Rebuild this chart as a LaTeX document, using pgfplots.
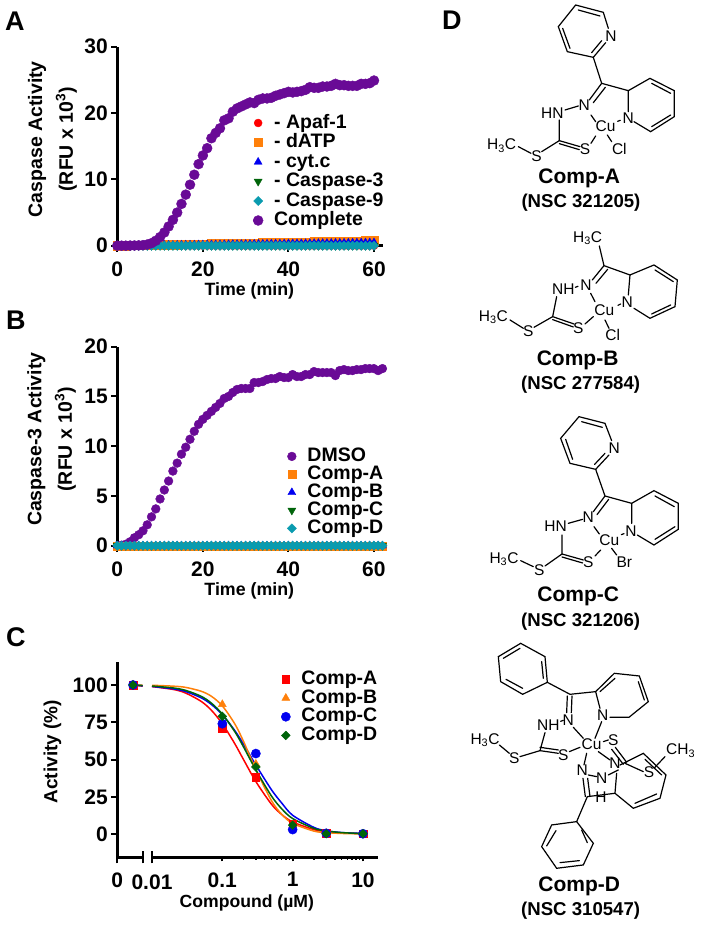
\documentclass[border=0pt]{standalone}
\usepackage{fontspec}
\setmainfont{Liberation Sans}
\usepackage{pgfplots}
\usepackage{pgfplotstable}
\pgfplotsset{compat=1.18}

\definecolor{cred}{RGB}{255,0,0}
\definecolor{corange}{RGB}{255,128,10}
\definecolor{cblue}{RGB}{0,0,240}
\definecolor{cgreen}{RGB}{0,100,10}
\definecolor{cteal}{RGB}{10,155,175}
\definecolor{cpurple}{RGB}{105,10,150}

\newcommand{\fz}[1]{\fontsize{#1}{#1}\selectfont\bfseries}

% panel A: t, -Apaf-1, -dATP, -cyt.c, -Caspase-3, -Caspase-9, Complete
\pgfplotstableread{
t a b c d e f
0 0 0 0 0 0 0
1 0 0.01 0 0 0 0
2 0 0.02 0.01 0 0 0
3 0 0.04 0.02 0 0 0.02
4 0 0.05 0.03 0 0 0.03
5 0 0.06 0.04 0 0 0.05
6 0 0.08 0.05 0 0 0.08
7 0 0.09 0.06 0 0 0.18
8 0 0.10 0.06 0 0 0.38
9 0 0.11 0.07 0 0 0.75
10 0 0.13 0.08 0 0 1.3
11 0 0.14 0.09 0 0 2.0
12 0 0.15 0.10 0 0 2.9
13 0 0.16 0.10 0 0 3.9
14 0 0.18 0.11 0 0 5.0
15 0 0.19 0.12 0 0 6.3
16 0 0.20 0.13 0 0 7.7
17 0 0.21 0.14 0 0 9.2
18 0 0.23 0.14 0 0 10.7
19 0 0.24 0.15 0 0 12.3
20 0 0.25 0.16 0 0 13.6
21 0 0.26 0.17 0 0 14.7
22 0 0.28 0.18 0 0 16.2
23 0 0.29 0.18 0 0 17.0
24 0 0.30 0.19 0 0 17.7
25 0 0.31 0.20 0 0 18.9
26 0 0.33 0.21 0 0 19.2
27 0 0.34 0.22 0 0 20.2
28 0 0.35 0.22 0 0 20.7
29 0 0.36 0.23 0 0 21.0
30 0 0.38 0.24 0 0 21.3
31 0 0.39 0.25 0 0 21.6
32 0 0.40 0.26 0 0 21.5
33 0 0.41 0.26 0 0 22.0
34 0 0.43 0.27 0 0 22.2
35 0 0.44 0.28 0 0 22.2
36 0 0.45 0.29 0 0 22.3
37 0 0.46 0.30 0 0 22.6
38 0 0.48 0.30 0 0 22.8
39 0 0.49 0.31 0 0 23.0
40 0 0.50 0.32 0 0 23.2
41 0 0.51 0.33 0 0 23.1
42 0 0.53 0.34 0 0 23.2
43 0 0.54 0.34 0 0 23.3
44 0 0.55 0.35 0 0 23.5
45 0 0.56 0.36 0 0 23.9
46 0 0.58 0.37 0 0 23.8
47 0 0.59 0.38 0 0 23.8
48 0 0.60 0.38 0 0 24.0
49 0 0.61 0.39 0 0 24.0
50 0 0.63 0.40 0 0 24.1
51 0 0.64 0.41 0 0 24.4
52 0 0.65 0.42 0 0 24.2
53 0 0.66 0.42 0 0 24.2
54 0 0.68 0.43 0 0 24.1
55 0 0.69 0.44 0 0 24.1
56 0 0.70 0.45 0 0 24.1
57 0 0.71 0.46 0 0 24.4
58 0 0.73 0.46 0 0 24.4
59 0 0.74 0.47 0 0 24.5
60 0 0.75 0.48 0 0 24.9
}\tableA

% panel B: t, DMSO, Comp-A..D
\pgfplotstableread{
t dmso a b c d
0 0 0 0 0 0
1 0.05 0 0 0 0
2 0.15 0 0 0 0
3 0.4 0 0 0 0
4 0.8 0 0 0 0
5 1.1 0 0 0 0
6 1.5 0 0 0 0
7 2.1 0 0 0 0
8 2.9 0 0 0 0
9 3.7 0 0 0 0
10 4.7 0 0 0 0
11 5.6 0 0 0 0
12 6.5 0 0 0 0
13 7.5 0 0 0 0
14 8.3 0 0 0 0
15 9.2 0 0 0 0
16 9.9 0 0 0 0
17 10.7 0 0 0 0
18 11.5 0 0 0 0
19 12.2 0 0 0 0
20 12.7 0 0 0 0
21 13.1 0 0 0 0
22 13.5 0 0 0 0
23 13.9 0 0 0 0
24 14.3 0 0 0 0
25 14.8 0 0 0 0
26 15.0 0 0 0 0
27 15.4 0 0 0 0
28 15.7 0 0 0 0
29 15.8 0 0 0 0
30 15.8 0 0 0 0
31 15.8 0 0 0 0
32 16.4 0 0 0 0
33 16.4 0 0 0 0
34 16.5 0 0 0 0
35 16.7 0 0 0 0
36 16.8 0 0 0 0
37 16.8 0 0 0 0
38 17.0 0 0 0 0
39 16.9 0 0 0 0
40 16.9 0 0 0 0
41 17.2 0 0 0 0
42 17.0 0 0 0 0
43 17.0 0 0 0 0
44 17.2 0 0 0 0
45 17.2 0 0 0 0
46 17.5 0 0 0 0
47 17.4 0 0 0 0
48 17.4 0 0 0 0
49 17.4 0 0 0 0
50 17.4 0 0 0 0
51 17.1 0 0 0 0
52 17.6 0 0 0 0
53 17.7 0 0 0 0
54 17.6 0 0 0 0
55 17.6 0 0 0 0
56 17.7 0 0 0 0
57 17.7 0 0 0 0
58 17.8 0 0 0 0
59 17.8 0 0 0 0
60 17.8 0 0 0 0
61 17.6 0 0 0 0
62 17.8 0 0 0 0
}\tableB

% panel C: fitted curves
\pgfplotstableread{
x a b c d
0.01 98.9 99.8 99.0 99.3
0.02 97.0 99.2 97.4 98.0
0.03 94.6 98.4 95.6 96.4
0.05 89.0 95.8 91.4 92.4
0.07 83.0 92.4 86.9 87.8
0.1 74.0 86.0 80.1 80.5
0.15 60.7 74.0 69.5 68.8
0.2 50.0 62.2 60.3 58.5
0.3 35.2 43.2 46.3 43.0
0.5 20.0 22.4 29.7 25.5
0.7 13.1 13.2 20.8 16.9
1 8.1 7.2 12.6 10.4
2 3.0 2.0 4.5 3.8
3 1.6 0.95 2.2 2.1
5 0.8 0.4 1.0 0.95
10 0.3 0.1 0.4 0.3
}\tableC

\pgfplotsset{
  chart/.style={
    scale only axis, clip=false,
    axis x line=bottom, axis y line=left,
    axis line style={-, line width=2.6pt},
    tick align=outside, major tick length=6pt,
    tick style={black, line width=2pt},
    xtick pos=bottom, ytick pos=left,
    tick label style={font=\fz{21}},
    /pgf/number format/assume math mode=true,
    every axis y label/.style={font=\fz{19.5},at={(axis description cs:-0.244,0.535)},rotate=90,anchor=center,align=center},
    legend cell align=left,
    legend style={draw=none, fill=none, font=\fz{19.5},
      /tikz/every odd column/.append style={column sep=11pt}},
  },
  pts/.style={only marks, mark=#1, mark options={solid}},
}
\tikzset{bond/.style={line width=1.2pt, line cap=round},
  atom/.style={font=\fontsize{15.5}{15.5}\selectfont, inner sep=0pt},
  ctitle/.style={font=\fz{21}, inner sep=0pt},
  nsc/.style={font=\fz{18.6}, inner sep=0pt},
  plet/.style={font=\fz{27}, inner sep=0pt, anchor=west}}

\begin{document}
\begin{tikzpicture}
\useasboundingbox (0pt,0pt) rectangle (701pt,-926pt);

% A
\begin{axis}[chart, at={(117.3pt,-245.7pt)}, anchor=south west,
  width=265.7pt, height=199pt,
  xmin=0, xmax=62.1, ymin=0, ymax=30,
  xtick={0,20,40,60}, ytick={0,10,20,30},
  xticklabel style={yshift=-7pt},
  xlabel={Time (min)}, ylabel={Caspase Activity\\[8.5pt](RFU x 10\textsuperscript{3})},
  every axis x label/.style={font=\fz{17.8},at={(axis description cs:0.497,-0.226)},anchor=center},
  legend style={at={(axis cs:31,20.3)}, anchor=north west, row sep=0pt,
    nodes={inner sep=0pt, text height=15pt, text depth=4.5pt}},
]
\addplot[pts={*}, mark size=4pt, cred, mark options={fill=cred}] table[x=t,y=a] {\tableA};
\addlegendentry{- Apaf-1}
\addplot[pts={square*}, mark size=4.2pt, corange, mark options={fill=corange}] table[x=t,y=b] {\tableA};
\addlegendentry{- dATP}
\addplot[pts={triangle*}, mark size=4.6pt, cblue, mark options={fill=cblue}] table[x=t,y=c] {\tableA};
\addlegendentry{- cyt.c}
\addplot[only marks, mark=triangle*, mark size=4.6pt, cgreen, mark options={fill=cgreen, rotate=180}] table[x=t,y=d] {\tableA};
\addlegendentry{- Caspase-3}
\addplot[only marks, mark=diamond*, mark size=4.6pt, cteal, mark options={fill=cteal, xscale=1.33}] table[x=t,y=e] {\tableA};
\addlegendentry{- Caspase-9}
\addplot[pts={*}, mark size=5pt, cpurple, mark options={fill=cpurple}] table[x=t,y=f] {\tableA};
\addlegendentry{Complete}
\end{axis}

% B
\begin{axis}[chart, at={(117.3pt,-545.7pt)}, anchor=south west,
  width=269.4pt, height=199pt,
  xmin=0, xmax=63, ymin=0, ymax=20,
  xtick={0,20,40,60}, ytick={0,5,10,15,20},
  xticklabel style={yshift=-7pt},
  xlabel={Time (min)}, ylabel={Caspase-3 Activity\\[8.5pt](RFU x 10\textsuperscript{3})},
  every axis x label/.style={font=\fz{17.8},at={(axis description cs:0.49,-0.226)},anchor=center},
  legend style={at={(axis cs:39,10.1)}, anchor=north west, row sep=0pt,
    nodes={inner sep=0pt, text height=14pt, text depth=4pt}},
]
\addplot[pts={*}, mark size=4.4pt, cpurple, mark options={fill=cpurple}] table[x=t,y=dmso] {\tableB};
\addlegendentry{DMSO}
\addplot[pts={square*}, mark size=4pt, corange, mark options={fill=corange}] table[x=t,y=a] {\tableB};
\addlegendentry{Comp-A}
\addplot[pts={triangle*}, mark size=4.6pt, cblue, mark options={fill=cblue}] table[x=t,y=b] {\tableB};
\addlegendentry{Comp-B}
\addplot[only marks, mark=triangle*, mark size=4.6pt, cgreen, mark options={fill=cgreen, rotate=180}] table[x=t,y=c] {\tableB};
\addlegendentry{Comp-C}
\addplot[only marks, mark=diamond*, mark size=4.6pt, cteal, mark options={fill=cteal, xscale=1.33}] table[x=t,y=d] {\tableB};
\addlegendentry{Comp-D}
\end{axis}

% C, stretch of the x axis that holds the zero dose
\begin{axis}[chart, at={(117.3pt,-857.3pt)}, anchor=south west,
  width=25.4pt, height=195.6pt,
  xmin=0, xmax=1, ymin=-15.6, ymax=115.6,
  xtick={0}, xticklabels={0}, ytick={0,25,50,75,100},
  extra x ticks={1}, extra x tick labels={},
  extra x tick style={tick align=center, major tick length=12pt},
  xticklabel style={yshift=-6pt},
  ylabel={Activity (\%)},
  every axis y label/.style={font=\fz{19},at={(axis description cs:-2.55,0.54)},rotate=90,anchor=center},
]
\addplot[cred, line width=1.5pt] coordinates {(0.618,100) (1,99.2)};
\addplot[corange, line width=1.5pt] coordinates {(0.618,100) (1,99.9)};
\addplot[cblue, line width=1.5pt] coordinates {(0.618,100) (1,99.4)};
\addplot[cgreen, line width=1.5pt] coordinates {(0.618,100) (1,99.6)};
\addplot[pts={square*}, mark size=3.8pt, cred, mark options={fill=cred}] coordinates {(0.618,100)};
\addplot[pts={triangle*}, mark size=4.6pt, corange, mark options={fill=corange}] coordinates {(0.618,100)};
\addplot[pts={*}, mark size=4.6pt, cblue, mark options={fill=cblue}] coordinates {(0.618,100)};
\addplot[only marks, mark=diamond*, mark size=4.4pt, cgreen, mark options={fill=cgreen, xscale=1.33}] coordinates {(0.618,100)};
\end{axis}

% C, logarithmic stretch
\begin{axis}[chart, at={(152pt,-857.3pt)}, anchor=south west,
  width=225.7pt, height=195.6pt, xmode=log,
  xmin=0.01, xmax=16.2, ymin=-15.6, ymax=115.6,
  axis y line=none,
  xtick={0.1,1,10}, xticklabels={0.1,1,10},
  extra x ticks={0.01}, extra x tick labels={0.01},
  extra x tick style={tick align=center, major tick length=12pt},
  minor x tick num=9,
  major tick length=4pt, minor tick length=2.5pt,
  every minor tick/.style={black, line width=1.4pt},
  xticklabel style={yshift=-7.5pt},
  xlabel={Compound (µM)},
  every axis x label/.style={font=\fz{17.6},at={(axis description cs:0.42,-0.232)},anchor=center},
  legend style={at={(axis cs:0.62,111.5)}, anchor=north west, row sep=0pt,
    nodes={inner sep=0pt, text height=14.5pt, text depth=4.2pt}},
]
\addplot[pts={square*}, mark size=3.8pt, cred, mark options={fill=cred}] coordinates {(0.1,71) (0.3,38) (1,7) (3,0.5) (10,0.3)};
\addlegendentry{Comp-A}
\addplot[pts={triangle*}, mark size=4.6pt, corange, mark options={fill=corange}] coordinates {(0.1,87) (0.3,47) (1,6) (3,0.4) (10,0.2)};
\addlegendentry{Comp-B}
\addplot[pts={*}, mark size=4.6pt, cblue, mark options={fill=cblue}] coordinates {(0.1,74) (0.3,54) (1,3) (3,0.5) (10,0.2)};
\addlegendentry{Comp-C}
\addplot[only marks, mark=diamond*, mark size=4.4pt, cgreen, mark options={fill=cgreen, xscale=1.33}] coordinates {(0.1,79) (0.3,45) (1,6) (3,0.2) (10,0.2)};
\addlegendentry{Comp-D}
\addplot[smooth, cred, line width=1.5pt] table[x=x,y=a] {\tableC};
\addplot[smooth, cblue, line width=1.5pt] table[x=x,y=c] {\tableC};
\addplot[smooth, corange, line width=1.5pt] table[x=x,y=b] {\tableC};
\addplot[smooth, cgreen, line width=1.5pt] table[x=x,y=d] {\tableC};
\end{axis}

% panel letters
\begin{scope}[x=1pt,y=-1pt]
\node[plet] at (5,21) {A};
\node[plet] at (6,320) {B};
\node[plet] at (6,637) {C};
\node[plet] at (442,20) {D};
\end{scope}

% structures, upper two: pixel of the 3x crop
\begin{scope}[shift={(430pt,0pt)}, x=0.3333pt, y=-0.3333pt]
% Comp-A
\draw[bond] (535,85)--(520,37)--(437,15)--(385,80)--(412,155)--(490,172)--(527,128);
\draw[bond] (398,85)--(420,145) (445,30)--(510,48) (515,122)--(485,158);
\draw[bond] (490,172)--(515,250)--(595,272)--(660,235)--(733,272)--(733,350)--(662,395)--(612,365);
\draw[bond] (595,272)--(595,335) (665,250)--(722,280) (722,345)--(665,380);
\draw[bond] (515,250)--(478,300) (526,262)--(490,308);
\draw[bond] (405,330)--(445,318) (388,360)--(388,422)--(450,440) (388,431)--(448,449);
\draw[bond] (388,422)--(335,455) (265,440)--(303,460);
\draw[bond] (483,345)--(497,365) (483,430)--(497,408) (532,405)--(545,425) (563,364)--(571,361);
\node[atom] at (543,110) {N}; \node[atom] at (463,315) {N}; \node[atom] at (595,355) {N};
\node[atom] at (367,340) {HN}; \node[atom] at (320,468) {S}; \node[atom] at (465,447) {S};
\node[atom] at (215,437) {H\textsubscript{3}C}; \node[atom] at (527,380) {Cu}; \node[atom] at (568,447) {Cl};
\node[ctitle] at (448,535) {Comp-A}; \node[nsc] at (453,607) {(NSC 321205)};
% Comp-B
\draw[bond] (508,738)--(522,797)--(600,825)--(672,795)--(742,840)--(735,920)--(660,955)--(612,925);
\draw[bond] (600,825)--(595,885) (675,810)--(730,845) (722,915)--(665,942);
\draw[bond] (522,797)--(487,840) (533,808)--(498,850);
\draw[bond] (380,890)--(368,950)--(432,972) (368,959)--(430,981);
\draw[bond] (368,950)--(312,982) (240,960)--(280,985);
\draw[bond] (482,880)--(495,905) (465,972)--(490,950) (525,960)--(537,985) (564,916)--(572,912) (436,862)--(444,859);
\node[atom] at (473,715) {H\textsubscript{3}C}; \node[atom] at (468,857) {N}; \node[atom] at (592,908) {N};
\node[atom] at (400,868) {NH}; \node[atom] at (295,993) {S}; \node[atom] at (445,985) {S};
\node[atom] at (190,952) {H\textsubscript{3}C}; \node[atom] at (523,930) {Cu}; \node[atom] at (548,1005) {Cl};
\node[ctitle] at (443,1082) {Comp-B}; \node[nsc] at (452,1155) {(NSC 277584)};
\end{scope}

% structures, lower two
\begin{scope}[shift={(430pt,-410pt)}, x=0.3333pt, y=-0.3333pt]
% Comp-C
\draw[bond] (545,92)--(525,40)--(447,20)--(392,85)--(420,160)--(497,178)--(537,135);
\draw[bond] (407,88)--(428,148) (455,35)--(517,52) (525,130)--(494,163);
\draw[bond] (497,178)--(525,258)--(605,280)--(672,242)--(745,280)--(745,358)--(672,405)--(622,375);
\draw[bond] (605,280)--(605,340) (675,258)--(733,290) (735,350)--(675,388);
\draw[bond] (525,258)--(490,305) (536,268)--(501,314);
\draw[bond] (415,340)--(458,328) (396,375)--(396,432)--(460,450) (396,441)--(458,459);
\draw[bond] (396,432)--(345,468) (272,452)--(310,470);
\draw[bond] (492,350)--(508,372) (495,438)--(512,420) (545,415)--(560,435) (574,374)--(582,371);
\node[atom] at (553,115) {N}; \node[atom] at (475,322) {N}; \node[atom] at (603,365) {N};
\node[atom] at (377,348) {HN}; \node[atom] at (328,480) {S}; \node[atom] at (475,458) {S};
\node[atom] at (222,447) {H\textsubscript{3}C}; \node[atom] at (538,390) {Cu}; \node[atom] at (583,458) {Br};
\node[ctitle] at (445,560) {Comp-C}; \node[nsc] at (452,635) {(NSC 321206)};
% Comp-D
\draw[bond] (272,700)--(345,740)--(352,817)--(278,853)--(212,815)--(205,740)--cycle;
\draw[bond] (220,745)--(270,715) (335,755)--(340,805) (228,808)--(278,835);
\draw[bond] (352,817)--(420,853)--(497,845)--(553,790)--(628,798)--(655,875)--(597,922)--(540,922);
\draw[bond] (497,845)--(510,895) (510,845)--(555,805) (625,815)--(643,870);
\draw[bond] (412,858)--(410,908) (426,858)--(424,908);
\draw[bond] (345,968)--(330,1022)--(385,1030) (330,1012)--(385,1020);
\draw[bond] (330,1022)--(270,1040) (208,1005)--(238,1030) (418,1025)--(450,1012);
\draw[bond] (430,952)--(460,985) (515,935)--(495,985) (520,995)--(535,990) (392,934)--(400,931);
\draw[bond] (505,1025)--(540,1050) (470,1030)--(462,1065);
\draw[bond] (545,1018)--(580,1063) (556,1012)--(590,1057);
\draw[bond] (475,1095)--(500,1100) (535,1095)--(565,1080) (585,1060)--(640,1085) (672,1075)--(705,1040);
\draw[bond] (570,1065)--(640,1030)--(708,1095)--(690,1165)--(610,1195)--(555,1150)--(560,1090);
\draw[bond] (645,1048)--(695,1095) (680,1152)--(615,1180);
\draw[bond] (472,1160)--(555,1150);
\draw[bond] (466,1160)--(459,1105) (480,1160)--(473,1105);
\draw[bond] (472,1160)--(440,1235);
\draw[bond] (440,1235)--(490,1300)--(460,1365)--(380,1375)--(335,1310)--(365,1245)--cycle;
\draw[bond] (455,1260)--(472,1298) (448,1352)--(390,1358) (350,1308)--(378,1262);
\node[atom] at (355,945) {NH}; \node[atom] at (415,930) {N}; \node[atom] at (518,915) {N};
\node[atom] at (165,990) {H\textsubscript{3}C}; \node[atom] at (253,1045) {S}; \node[atom] at (400,1035) {S};
\node[atom] at (485,1002) {Cu}; \node[atom] at (550,990) {S}; \node[atom] at (555,1060) {N};
\node[atom] at (457,1082) {N}; \node[atom] at (515,1105) {N}; \node[atom] at (657,1088) {S};
\node[atom] at (752,1022) {CH\textsubscript{3}}; \node[atom] at (513,1163) {H};
\node[ctitle] at (448,1430) {Comp-D}; \node[nsc] at (452,1503) {(NSC 310547)};
\end{scope}
\end{tikzpicture}
\end{document}
